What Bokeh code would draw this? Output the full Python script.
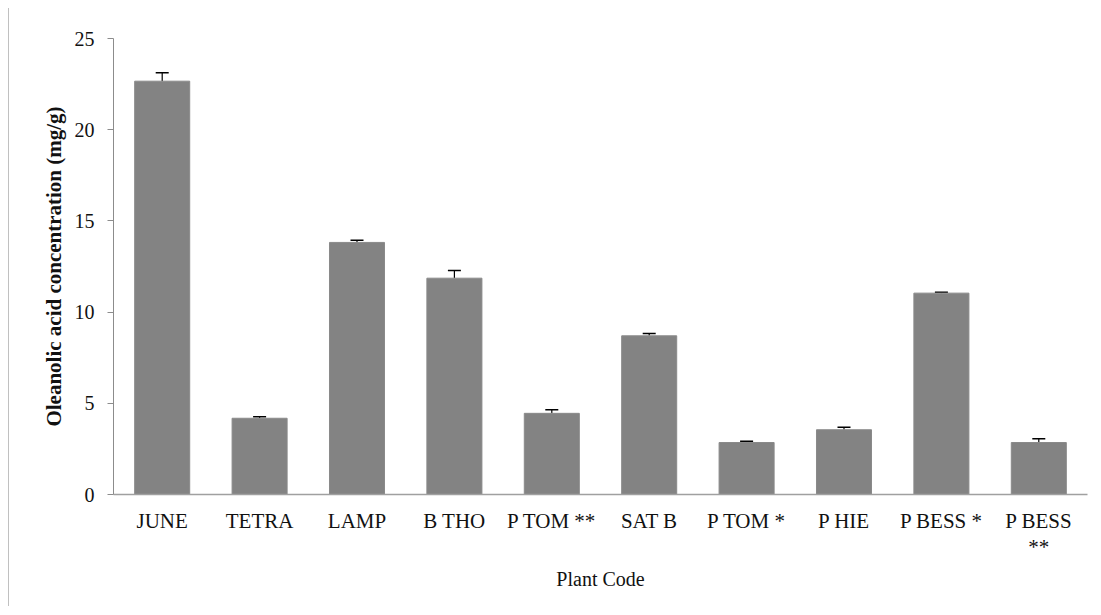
from bokeh.plotting import figure
from bokeh.models import ColumnDataSource, FactorRange, Range1d, Whisker, TeeHead
from bokeh.embed import file_html
from bokeh.resources import INLINE

plants = ["JUNE", "TETRA", "LAMP", "B THO", "P TOM **", "SAT B", "P TOM *", "P HIE", "P BESS *", "P BESS\n**"]
concentration = [22.66, 4.18, 13.82, 11.86, 4.45, 8.70, 2.85, 3.55, 11.04, 2.85]
errors = [0.46, 0.08, 0.12, 0.42, 0.20, 0.12, 0.07, 0.14, 0.05, 0.20]
y_ticks = [0, 5, 10, 15, 20, 25]

upper = [c + e for c, e in zip(concentration, errors)]
source = ColumnDataSource(dict(plant=plants, value=concentration, upper=upper))

FONT = "Liberation Serif"

p = figure(
    width=1084, height=598,
    x_range=FactorRange(factors=plants, range_padding=0),
    y_range=Range1d(0, 25),
    output_backend="svg", toolbar_location=None,
    min_border_left=104, min_border_right=6, min_border_top=30, min_border_bottom=112,
)
p.styles = {"border-left": "1px solid #c0c0c0", "margin-left": "8px", "margin-top": "8px"}
p.outline_line_color = None
p.xgrid.grid_line_color = None
p.ygrid.grid_line_color = None

p.vbar(x="plant", top="value", width=0.565, source=source,
       fill_color="#838383", line_color="#8a8a8a", line_width=1)

w = Whisker(base="plant", lower="value", upper="upper", source=source,
            line_color="black", line_width=1.2,
            upper_head=TeeHead(size=13, line_color="black", line_width=1.5),
            lower_head=None)
p.add_layout(w)

# y axis
p.yaxis.ticker = y_ticks
p.yaxis.axis_label = "Oleanolic acid concentration (mg/g)"
p.yaxis.axis_label_text_font = FONT
p.yaxis.axis_label_text_font_style = "bold"
p.yaxis.axis_label_text_font_size = "21px"
p.yaxis.axis_label_text_color = "#111111"
p.yaxis.axis_label_standoff = 6
p.yaxis.major_label_text_font = FONT
p.yaxis.major_label_text_font_size = "20px"
p.yaxis.major_label_text_color = "#111111"
p.yaxis.major_label_standoff = 13
p.yaxis.axis_line_color = "#8c8c8c"
p.yaxis.major_tick_line_color = "#8c8c8c"
p.yaxis.major_tick_out = 6
p.yaxis.major_tick_in = 0
p.yaxis.minor_tick_line_color = None

# x axis
p.xaxis.axis_label = "Plant Code"
p.xaxis.axis_label_text_font = FONT
p.xaxis.axis_label_text_font_style = "normal"
p.xaxis.axis_label_text_font_size = "20px"
p.xaxis.axis_label_text_color = "#111111"
p.xaxis.axis_label_standoff = 6
p.xaxis.major_label_text_font = FONT
p.xaxis.major_label_text_font_size = "21px"
p.xaxis.major_label_text_line_height = 1.1
p.xaxis.major_label_text_color = "#111111"
p.xaxis.major_label_standoff = 8
p.xaxis.axis_line_color = "#a0a0a0"
p.xaxis.axis_line_width = 1.5
p.xaxis.major_tick_line_color = None
p.xaxis.minor_tick_line_color = None

open("out.html", "w").write(file_html(p, INLINE))
